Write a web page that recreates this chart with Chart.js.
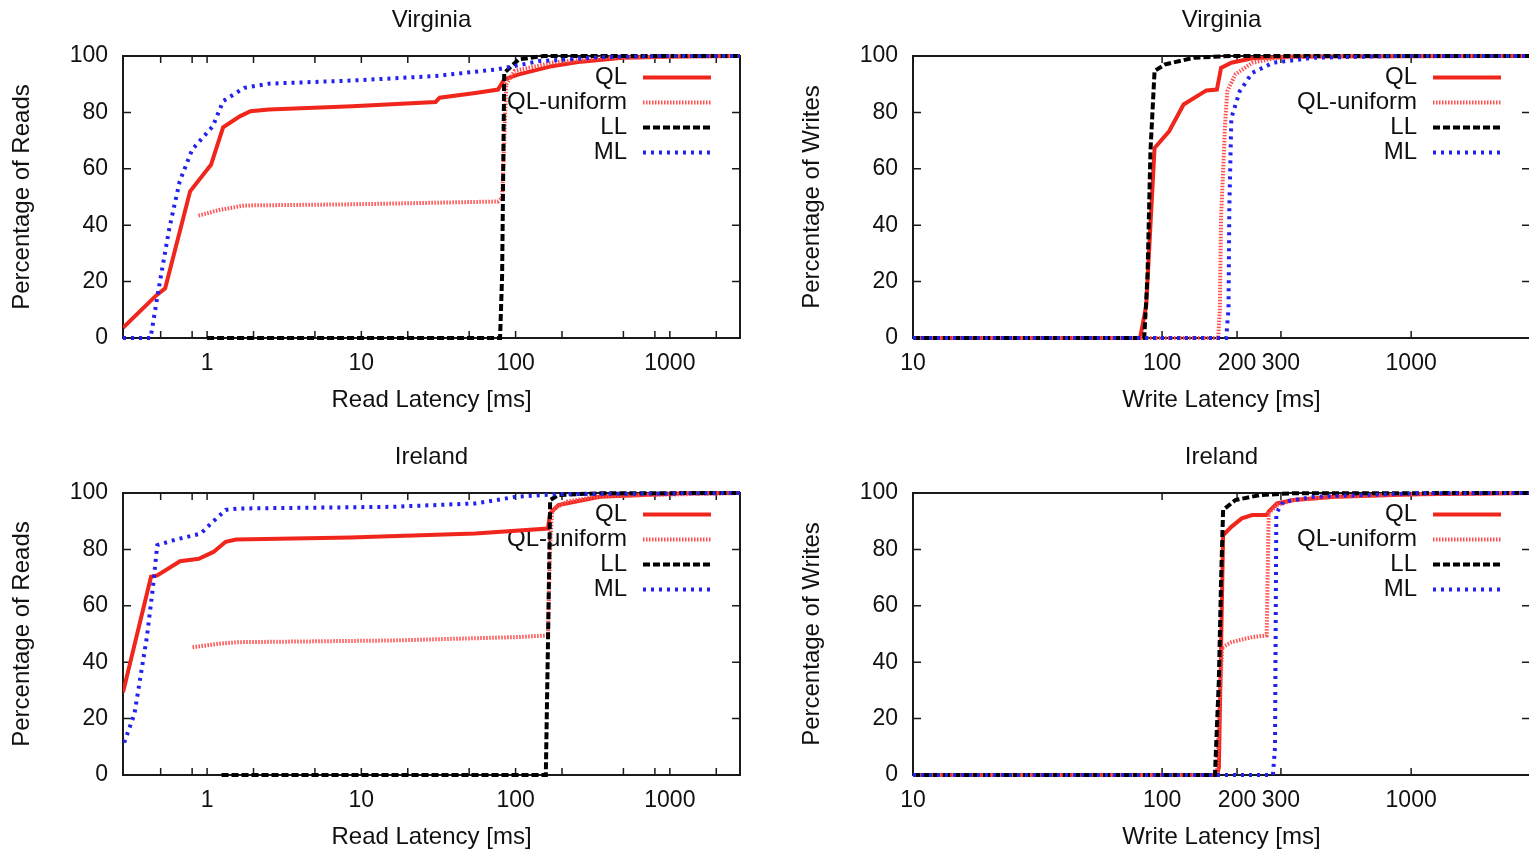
<!DOCTYPE html>
<html><head><meta charset="utf-8">
<script src="https://cdn.jsdelivr.net/npm/chart.js@4.4.1/dist/chart.umd.min.js"></script>
<style>
html,body{margin:0;padding:0;background:#fff;overflow:hidden;width:1529px;height:852px;position:relative;}
.box{position:absolute;width:764px;height:426px;}
canvas{display:block;}
</style></head><body>
<div class="box" style="left:0;top:0"><canvas id="c1" width="764" height="426"></canvas></div>
<div class="box" style="left:790px;top:0"><canvas id="c2" width="764" height="426"></canvas></div>
<div class="box" style="left:0;top:437px"><canvas id="c3" width="764" height="426"></canvas></div>
<div class="box" style="left:790px;top:437px"><canvas id="c4" width="764" height="426"></canvas></div>
<script>
// ---- data (latency ms, percentage) ----
const seriesNames = ['QL', 'QL-uniform', 'LL', 'ML'];
const panelTitles = ['Virginia', 'Virginia', 'Ireland', 'Ireland'];
const readAxisTitle = 'Read Latency [ms]';
const writeAxisTitle = 'Write Latency [ms]';
const readYTitle = 'Percentage of Reads';
const writeYTitle = 'Percentage of Writes';
const readTickLabels = [1, 10, 100, 1000];
const readMinorTicks = [0.5, 0.8, 2, 5, 20, 50, 200, 500, 800, 2000];
const writeTickLabels = [10, 100, 200, 300, 1000];
const yTickValues = [0, 20, 40, 60, 80, 100];

const vaReadQL = [[0.285,3.6],[0.47,15.2],[0.535,17.6],[0.776,52],[1.06,61.4],[1.27,74.7],[1.63,78.6],[1.91,80.4],[2.52,81],[8.74,82.2],[30.3,83.7],[32.2,85.2],[56.4,87],[76.9,88.1],[84.4,91.7],[105,93.5],[172,96.4],[266,98],[495,99.4],[1259,99.9],[2850,100]];
const vaReadQLU = [[0.88,43.4],[1.2,45.4],[1.74,47],[8.74,47.4],[76.9,48.4],[81.8,49.6],[84.4,69.8],[87,90],[98.4,94.7],[172,97.6],[363,99.4],[2850,100]];
const vaReadLL = [[1.0,0],[79.3,0],[81.8,22.3],[84.4,94],[105,98.8],[152,100],[2850,100]];
const vaReadML = [[0.285,0],[0.43,0],[0.486,17.6],[0.569,38.9],[0.664,55.5],[0.8,66.8],[1.09,75.1],[1.27,84],[1.74,88.7],[2.52,90.2],[8.74,91.3],[30.3,92.9],[76.9,95.3],[143,98.2],[363,99.6],[922,100],[2850,100]];

const vaWriteQL = [[10,0],[81.6,0],[86.4,11.6],[89.8,40],[93.3,67.4],[106.7,73.3],[122,82.8],[150.7,87.8],[166,88.1],[172.5,95.8],[189.7,97.6],[230,99.2],[337,99.8],[2300,100],[3000,100]];
const vaWriteQLU = [[10,0],[168,0],[170.6,10.4],[172.5,42.5],[179,75.7],[182.7,87.5],[197,93.5],[230,97.6],[289.6,99.4],[495,100],[3000,100]];
const vaWriteLL = [[10,0],[84.8,0],[87.4,22.3],[89.8,66.2],[93.3,94.7],[102.7,97],[134.4,99.4],[189.7,100],[3000,100]];
const vaWriteML = [[10,0],[181,0],[184.8,10.4],[186.2,46],[189.7,78],[205,87.5],[230,94],[278.6,97.6],[409,99.4],[881,100],[3000,100]];

const ieReadQL = [[0.285,29.3],[0.433,70.3],[0.475,70.8],[0.668,75.8],[0.883,76.7],[1.1,79.1],[1.32,82.7],[1.54,83.5],[8.5,84.2],[54.8,85.6],[162,87.4],[167.5,92.8],[189.5,95.7],[352,98.7],[1219,99.9],[2850,100]];
const ieReadQLU = [[0.805,45.3],[1.17,46.5],[1.59,47.1],[15.8,47.7],[102,48.9],[162,49.5],[167.5,80.9],[172.6,94],[214.7,96.9],[352,98.9],[2850,100]];
const ieReadLL = [[1.24,0],[157,0],[162,45.3],[167.5,97.5],[189.5,99.3],[352,99.9],[2850,100]];
const ieReadML = [[0.29,11.5],[0.338,21.6],[0.407,48.9],[0.446,66.7],[0.475,81.5],[0.628,83.5],[0.91,85.6],[1.06,89.2],[1.32,94],[1.59,94.5],[15.8,95.1],[54.8,96.3],[102,98.7],[189.5,99.6],[2850,100]];

const ieWriteQL = [[10,0],[166,0],[169,2.6],[172.5,45.3],[175.8,85],[189.7,88],[209,91],[230,92.2],[263,92.2],[268,93.4],[289.6,96.3],[337,97.5],[495,98.7],[1067,99.6],[3000,100]];
const ieWriteQLU = [[10,0],[166,0],[169,21.6],[174.5,45.3],[189.7,47.1],[230,48.9],[263,49.5],[268,92.8],[289.6,95.7],[337,97.5],[495,98.7],[1067,99.6],[3000,100]];
const ieWriteLL = [[10,0],[163,0],[166,16.8],[169,33.5],[172.5,69],[175.8,94],[197,97.5],[248,99.3],[337,99.9],[3000,100]];
const ieWriteML = [[10,0],[278.6,0],[284,9.7],[287.5,92.8],[306.7,96.9],[409,98.7],[1067,99.9],[3000,100]];

// ---- styling ----
const FONT = '"Liberation Sans", Arial, Helvetica, sans-serif';
const TXT = '#111111';
Chart.defaults.font.family = FONT;
Chart.defaults.color = TXT;

const styles = [
  {borderColor: '#f0261c', borderWidth: 4, borderDash: [], order: 3},
  {borderColor: '#ff5050', borderWidth: 4, borderDash: [1.5, 1.5], order: 2},
  {borderColor: '#000000', borderWidth: 4, borderDash: [7, 3], order: 1},
  {borderColor: '#2222f0', borderWidth: 4, borderDash: [3, 5], order: 0}
];

const framePlugin = {
  id: 'frame',
  beforeDatasetsDraw(chart) {
    const {ctx, chartArea: a, scales: {x, y}} = chart;
    ctx.save();
    ctx.strokeStyle = '#1a1a1a';
    ctx.lineWidth = 2;
    ctx.strokeRect(a.left, a.top, a.right - a.left, a.bottom - a.top);
    ctx.lineWidth = 1.5;
    ctx.beginPath();
    x.ticks.forEach(t => {
      const px = x.getPixelForValue(t.value);
      ctx.moveTo(px, a.bottom); ctx.lineTo(px, a.bottom - 7);
      ctx.moveTo(px, a.top); ctx.lineTo(px, a.top + 7);
    });
    y.ticks.forEach(t => {
      const py = y.getPixelForValue(t.value);
      ctx.moveTo(a.left, py); ctx.lineTo(a.left + 8, py);
      ctx.moveTo(a.right, py); ctx.lineTo(a.right - 8, py);
    });
    ctx.stroke();
    // key (drawn before curves, as gnuplot does)
    ctx.font = '24px ' + FONT;
    ctx.fillStyle = TXT;
    ctx.textAlign = 'right';
    ctx.textBaseline = 'middle';
    chart.data.datasets.forEach((ds, i) => {
      const yy = a.top + 21.5 + 25 * i;
      ctx.fillText(ds.label, a.right - 113, yy);
      ctx.save();
      ctx.strokeStyle = ds.borderColor;
      ctx.lineWidth = ds.borderWidth;
      ctx.setLineDash(ds.borderDash || []);
      ctx.beginPath();
      ctx.moveTo(a.right - 97, yy);
      ctx.lineTo(a.right - 29, yy);
      ctx.stroke();
      ctx.restore();
    });
    ctx.restore();
  }
};

function makeChart(id, title, xTitle, yTitle, xmin, xmax, labeled, minor, series) {
  const allTicks = labeled.concat(minor).sort((a, b) => a - b);
  return new Chart(document.getElementById(id), {
    type: 'line',
    data: {
      datasets: series.map((pts, i) => Object.assign({
        label: seriesNames[i],
        data: pts.map(([x, y]) => ({x, y})),
        pointRadius: 0,
        tension: 0,
        fill: false,
        clip: {left: 0, top: 4, right: 0, bottom: 4}
      }, styles[i]))
    },
    options: {
      responsive: false,
      devicePixelRatio: 1,
      animation: false,
      layout: {padding: {left: 0, right: 24, top: 1, bottom: 0}},
      plugins: {
        legend: {display: false},
        tooltip: {enabled: false},
        title: {
          display: true, text: title, fullSize: false, color: TXT,
          font: {size: 24, weight: 'normal', family: FONT, lineHeight: 1.2},
          padding: {top: 4.6, bottom: 21.6}
        }
      },
      scales: {
        x: {
          type: 'logarithmic', min: xmin, max: xmax,
          afterBuildTicks: s => { s.ticks = allTicks.map(v => ({value: v})); },
          afterFit: s => { s.height = 88; },
          grid: {display: false, drawTicks: false},
          border: {display: false},
          ticks: {
            autoSkip: false, maxRotation: 0, minRotation: 0, padding: 12, color: TXT,
            font: {size: 23, family: FONT},
            callback: v => labeled.includes(v) ? String(v) : ''
          },
          title: {display: true, text: xTitle, color: TXT, font: {size: 24, family: FONT, lineHeight: 1.2}, padding: {top: 0, bottom: 11.6}}
        },
        y: {
          type: 'linear', min: 0, max: 100,
          afterBuildTicks: s => { s.ticks = yTickValues.map(v => ({value: v})); },
          afterFit: s => { s.width = 123; },
          grid: {display: false, drawTicks: false},
          border: {display: false},
          ticks: {padding: 15, color: TXT, font: {size: 23, family: FONT}},
          title: {display: true, text: yTitle, color: TXT, font: {size: 24, family: FONT, lineHeight: 1.2}, padding: {top: 7.6, bottom: 0}}
        }
      }
    },
    plugins: [framePlugin]
  });
}

makeChart('c1', panelTitles[0], readAxisTitle, readYTitle, 0.285, 2850, readTickLabels, readMinorTicks, [vaReadQL, vaReadQLU, vaReadLL, vaReadML]);
makeChart('c2', panelTitles[1], writeAxisTitle, writeYTitle, 10, 3000, writeTickLabels, [], [vaWriteQL, vaWriteQLU, vaWriteLL, vaWriteML]);
makeChart('c3', panelTitles[2], readAxisTitle, readYTitle, 0.285, 2850, readTickLabels, readMinorTicks, [ieReadQL, ieReadQLU, ieReadLL, ieReadML]);
makeChart('c4', panelTitles[3], writeAxisTitle, writeYTitle, 10, 3000, writeTickLabels, [], [ieWriteQL, ieWriteQLU, ieWriteLL, ieWriteML]);
</script>
</body></html>
